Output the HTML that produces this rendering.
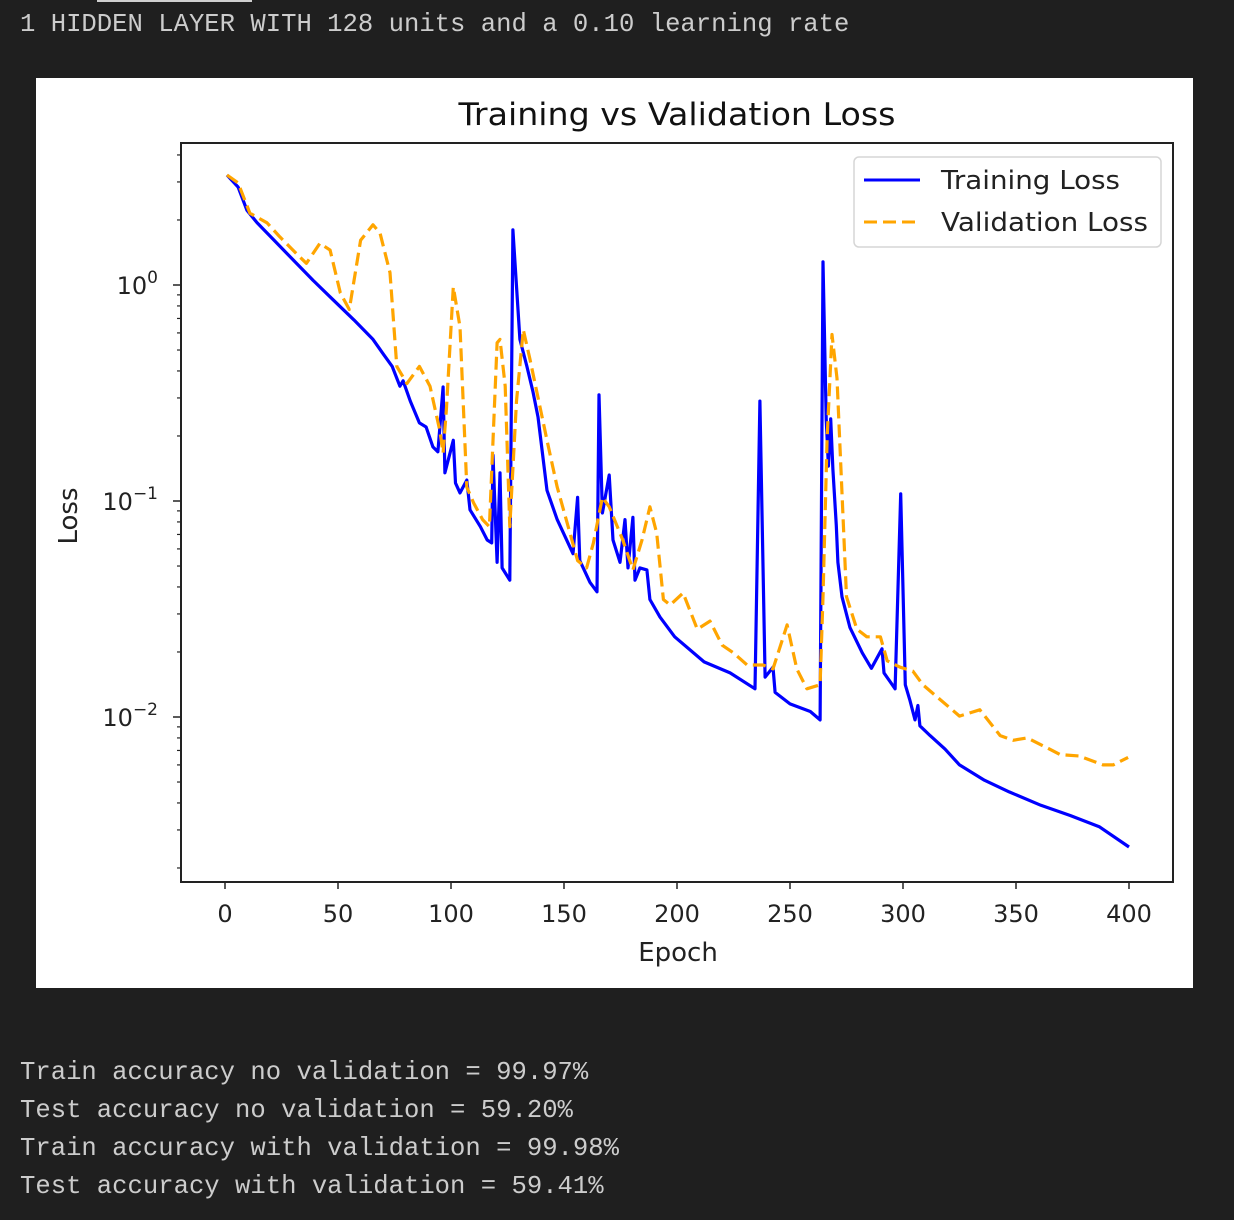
<!DOCTYPE html>
<html><head><meta charset="utf-8">
<style>
html,body{margin:0;padding:0;background:#1f1f1f;width:1234px;height:1220px;overflow:hidden;}
.mono{font-family:"Liberation Mono","DejaVu Sans Mono",monospace;color:#cccccc;font-size:25.6px;position:absolute;left:20px;white-space:pre;}
</style></head>
<body>
<div style="position:absolute;left:97px;top:0;width:155px;height:2px;background:#cfcfcf"></div>
<div class="mono" style="top:10px">1 HIDDEN LAYER WITH 128 units and a 0.10 learning rate</div>
<svg id="chart" width="1234" height="1000" style="position:absolute;left:0;top:0" xmlns="http://www.w3.org/2000/svg"></svg>
<div class="mono" style="top:1058px">Train accuracy no validation = 99.97%</div>
<div class="mono" style="top:1096px">Test accuracy no validation = 59.20%</div>
<div class="mono" style="top:1134px">Train accuracy with validation = 99.98%</div>
<div class="mono" style="top:1172px">Test accuracy with validation = 59.41%</div>
<script>
const trainEpochs=[0.9,5.8,9.7,14.2,23,39,48,57,65.5,70,74,77.4,78.8,82,86,89,92,94.2,96.5,97.3,101,102,104,107,108.4,113,116,118,118.6,120.4,121.7,122.6,126,127.4,130.5,133.6,136.3,138.5,142.5,147,154,156,157,161.5,164.6,165.5,167,170,171.7,174.8,177,178.3,180.5,181.4,183.6,186.7,188,192.5,199,212,223.5,234.5,236.7,239,242.5,243.4,250,259,263.3,264.6,266,267,268,269,270.5,271.2,273,276.5,282,286,290.7,291.6,296.5,299,301,303,305.3,306.6,307.5,312,318.6,325,336,347,361,374,387,400];
const trainLoss=[3.23,2.84,2.22,1.94,1.56,1.05,0.85,0.69,0.56,0.48,0.42,0.34,0.36,0.29,0.23,0.22,0.178,0.169,0.337,0.135,0.191,0.121,0.109,0.125,0.091,0.076,0.066,0.064,0.163,0.052,0.135,0.049,0.043,1.80,0.56,0.42,0.32,0.245,0.112,0.082,0.057,0.104,0.053,0.042,0.038,0.31,0.088,0.132,0.066,0.052,0.082,0.049,0.084,0.043,0.049,0.048,0.035,0.029,0.0235,0.018,0.016,0.0135,0.29,0.0153,0.017,0.013,0.0115,0.0106,0.0097,1.28,0.24,0.145,0.24,0.14,0.077,0.052,0.036,0.026,0.0198,0.0168,0.0207,0.016,0.0135,0.108,0.0141,0.012,0.0097,0.0113,0.0091,0.0082,0.0071,0.006,0.0051,0.0045,0.0039,0.0035,0.0031,0.0025];
const valEpochs=[0.9,5.8,11,18.6,24.3,33,36,42,46.5,51,55,60,65.5,68.6,73,76,80.5,86,90.7,95,96.5,98,101,104,107,110,114,117,120.4,121.7,124,126,129,132,135,142.5,147,156,160,163,167,170,176,180.5,184.5,188,191,194,197,202.7,209,214.6,220,225,231,238,242.5,248.7,253,257.5,263.3,264.6,266.4,268.6,270.8,273.5,275,279.6,284,290,293,298.7,304.4,308.8,315,325,334,343,348.7,355,363.7,369.5,378,388.5,393,399.6];
const valLoss=[3.23,2.97,2.15,1.94,1.67,1.35,1.26,1.56,1.45,0.92,0.77,1.61,1.90,1.74,1.14,0.42,0.35,0.42,0.34,0.213,0.167,0.27,0.98,0.64,0.116,0.098,0.082,0.076,0.54,0.56,0.34,0.076,0.29,0.62,0.45,0.191,0.116,0.053,0.049,0.064,0.104,0.094,0.066,0.048,0.066,0.094,0.071,0.035,0.033,0.0375,0.0255,0.0278,0.0215,0.0198,0.0174,0.0174,0.0167,0.0267,0.0167,0.0135,0.0141,0.036,0.194,0.59,0.37,0.083,0.036,0.0255,0.0235,0.0235,0.0182,0.017,0.0163,0.0141,0.0124,0.0101,0.0108,0.0082,0.0078,0.008,0.0072,0.0067,0.0066,0.006,0.006,0.0065];
const xTicks=[0,50,100,150,200,250,300,350,400];
const yMajorExp=[0,-1,-2];

const svg=document.getElementById('chart');
const NS='http://www.w3.org/2000/svg';
const L=181,R=1173,T=143,B=882;
const X0=225,XS=2.26;
const Y0=285,DEC=216;
function sx(e){return X0+XS*e;}
function sy(v){return Y0-DEC*Math.log10(v);}
function el(tag,attrs,parent){const e=document.createElementNS(NS,tag);for(const k in attrs)e.setAttribute(k,attrs[k]);(parent||svg).appendChild(e);return e;}

const bg=el('rect',{x:36,y:78,width:1157,height:910,fill:'#ffffff'});



const title=el('text',{x:677,y:125,'text-anchor':'middle','font-family':'DejaVu Sans, Liberation Sans, sans-serif','font-size':'31',fill:'#111',textLength:437,lengthAdjust:'spacingAndGlyphs'});
title.textContent='Training vs Validation Loss';



const clip=el('clipPath',{id:'pc'});el('rect',{x:L,y:T,width:R-L,height:B-T},clip);

function path(xs,ys,attrs,name){
  let d='';for(let i=0;i<xs.length;i++){d+=(i?'L':'M')+sx(xs[i]).toFixed(1)+','+sy(ys[i]).toFixed(1);}
  const p=el('path',Object.assign({d:d,fill:'none','clip-path':'url(#pc)','stroke-linejoin':'round'},attrs));
  
  
}
path(trainEpochs,trainLoss,{stroke:'#0000ff','stroke-width':3.2},'training-loss-line');
path(valEpochs,valLoss,{stroke:'#ffa500','stroke-width':3.2,'stroke-dasharray':'13,6'},'validation-loss-line');

const frame=el('rect',{x:L,y:T,width:R-L,height:B-T,fill:'none',stroke:'#222','stroke-width':2});



xTicks.forEach(t=>{
  const x=sx(t);
  el('line',{x1:x,y1:B,x2:x,y2:B+7,stroke:'#222','stroke-width':1.5});
  const tx=el('text',{x:x,y:922,'text-anchor':'middle','font-family':'DejaVu Sans, Liberation Sans, sans-serif','font-size':'24',fill:'#222'});
  tx.textContent=t;
  
  
});
yMajorExp.forEach(p=>{
  const y=sy(Math.pow(10,p));
  el('line',{x1:L-8,y1:y,x2:L,y2:y,stroke:'#222','stroke-width':1.5});
  const tx=el('text',{x:158,y:y+9,'text-anchor':'end','font-family':'DejaVu Sans, Liberation Sans, sans-serif','font-size':'24',fill:'#222'});
  tx.textContent='10';
  const sup=el('tspan',{dy:-11,'font-size':'17'},tx);
  sup.textContent=p===0?'0':'\u2212'+(-p);
  
  
});
for(let p=-3;p<=0;p++){for(let m=2;m<=9;m++){const v=m*Math.pow(10,p);const y=sy(v);if(y<T||y>B)continue;el('line',{x1:L-4,y1:y,x2:L,y2:y,stroke:'#222','stroke-width':1.2});}}

const xl=el('text',{x:678,y:961,'text-anchor':'middle','font-family':'DejaVu Sans, Liberation Sans, sans-serif','font-size':'26',fill:'#222'});
xl.textContent='Epoch';


const yl=el('text',{x:0,y:0,'text-anchor':'middle','font-family':'DejaVu Sans, Liberation Sans, sans-serif','font-size':'26',fill:'#222',transform:'translate(77,516) rotate(-90)'});
yl.textContent='Loss';



const lg=el('g',{});


el('rect',{x:854,y:157,width:307,height:90,rx:5,fill:'#fff',stroke:'#d6d6d6','stroke-width':1.5},lg);
const e1=el('g',{},lg);


el('line',{x1:864,y1:180,x2:920,y2:180,stroke:'#0000ff','stroke-width':3},e1);
const t1=el('text',{x:941,y:189,'font-family':'DejaVu Sans, Liberation Sans, sans-serif','font-size':'26',fill:'#222',textLength:179,lengthAdjust:'spacingAndGlyphs'},e1);
t1.textContent='Training Loss';
const e2=el('g',{},lg);


el('line',{x1:864,y1:222,x2:920,y2:222,stroke:'#ffa500','stroke-width':3,'stroke-dasharray':'13,6'},e2);
const t2=el('text',{x:941,y:231,'font-family':'DejaVu Sans, Liberation Sans, sans-serif','font-size':'26',fill:'#222',textLength:207,lengthAdjust:'spacingAndGlyphs'},e2);
t2.textContent='Validation Loss';
</script>
</body></html>
